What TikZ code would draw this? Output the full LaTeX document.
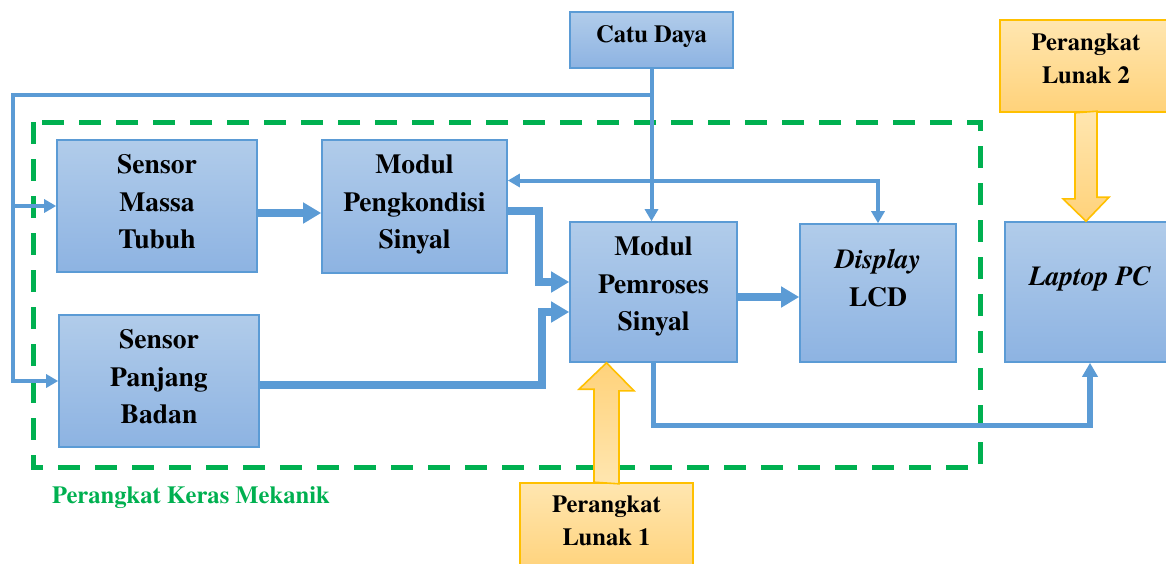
\documentclass[tikz,border=0pt]{standalone}
\usepackage{fontspec}
\setmainfont{texgyretermes}[Extension=.otf,UprightFont=*-regular,BoldFont=*-bold,ItalicFont=*-italic,BoldItalicFont=*-bolditalic]
\usetikzlibrary{arrows.meta}
\definecolor{boxline}{HTML}{5B9BD5}
\definecolor{boxtop}{HTML}{B1CCEA}
\definecolor{boxbot}{HTML}{8DB3E2}
\definecolor{softline}{HTML}{FFC000}
\definecolor{softtop}{HTML}{FFE6B0}
\definecolor{softbot}{HTML}{FFD27A}
\definecolor{hwgreen}{HTML}{00B050}
\begin{document}
\begin{tikzpicture}[x=0.5pt,y=-0.5pt,
				blok/.style={draw=boxline,line width=0.8pt,top color=boxtop,bottom color=boxbot,
					align=center,inner sep=0pt,text depth=4.5pt,font=\bfseries\fontsize{13.8}{18.75}\selectfont},
				kecil/.style={font=\bfseries\fontsize{12.3}{16.5}\selectfont},
				lunak/.style={draw=softline,top color=softtop,bottom color=softbot,text depth=7pt},
				pwr/.style={draw=boxline,line width=2pt,-{Triangle[length=6pt,width=6.5pt]}},
				sig/.style={draw=boxline,line width=4pt,-{Triangle[length=9pt,width=10pt]}},
				data/.style={draw=boxline,line width=2.6pt,-{Triangle[length=7pt,width=7.5pt]}},
				yarrow/.style={draw=softline,line width=0.8pt,top color=softbot,bottom color=softtop}]
\clip (0,0) rectangle (1166,563);
\draw[hwgreen,line width=2.5pt,dash pattern=on 11pt off 7.5pt] (33,122) rectangle (980,467);
\node[draw=none,text=hwgreen,font=\bfseries\fontsize{12.3}{16}\selectfont] (keras) at (191,498) {Perangkat Keras Mekanik};
\node[blok,kecil,minimum width=81.5pt,minimum height=28pt,text depth=6pt] (catu) at (651.5,40) {Catu Daya};
\node[blok,minimum width=100pt,minimum height=66pt] (massa) at (157,206) {Sensor\\Massa\\Tubuh};
\node[blok,minimum width=92.5pt,minimum height=66.5pt] (kondisi) at (414.5,206.5) {Modul\\Pengkondisi\\Sinyal};
\node[blok,minimum width=83.5pt,minimum height=70pt,text depth=8pt] (pemroses) at (653.5,292) {Modul\\Pemroses\\Sinyal};
\node[blok,minimum width=78pt,minimum height=69pt,text depth=15pt] (lcd) at (878,293) {\textit{Display}\\LCD};
\node[blok,minimum width=100pt,minimum height=66pt] (panjang) at (159,381) {Sensor\\Panjang\\Badan};
\node[blok,minimum width=85pt,minimum height=70pt,text depth=16pt] (laptop) at (1090,292) {\textit{Laptop PC}};
\node[blok,kecil,lunak,minimum width=86.5pt,minimum height=45pt] (lunak1) at (606.5,528) {Perangkat\\Lunak 1};
\node[blok,kecil,lunak,minimum width=86pt,minimum height=46pt] (lunak2) at (1086,66) {Perangkat\\Lunak 2};
\coordinate (busL) at (13,95);
\draw[pwr] (catu.south) -- (catu.south |- pemroses.north);
\draw[pwr] (catu.south |- busL) -- (busL) |- (panjang.west);
\draw[pwr] (busL |- massa.west) -- (massa.west);
\draw[pwr,{Triangle[length=6pt,width=6.5pt]}-{Triangle[length=6pt,width=6.5pt]}] ([yshift=13pt]kondisi.east) -| (lcd.north);
\draw[sig] ([yshift=-3.5pt]massa.east) -- ([yshift=-3.5pt]massa.east -| kondisi.west);
\draw[sig] ([yshift=-2pt]kondisi.east) -| ([xshift=-15pt,yshift=5pt]pemroses.west) -- ([yshift=5pt]pemroses.west);
\draw[sig] ([yshift=-2pt]panjang.east) -| ([xshift=-13.5pt,yshift=-10pt]pemroses.west) -- ([yshift=-10pt]pemroses.west);
\draw[sig] ([yshift=-2.5pt]pemroses.east) -- ([yshift=-2.5pt]pemroses.east -| lcd.west);
\draw[data] (pemroses.south) -- ++(0,63) -| (laptop.south);
\coordinate (l1tip) at (lunak1.north |- pemroses.south);
\coordinate (l2tip) at (lunak2.south |- laptop.north);
\draw[yarrow] (lunak1.north) ++(-12.5,0) -- ++(0,-93) -- ++(-15,0) -- (l1tip) -- ++(27.5,28) -- ++(-15,0) -- ++(0,93) -- cycle;
\draw[yarrow,top color=softtop,bottom color=softbot] (lunak2.south) ++(-11,0) -- ++(0,86) -- ++(-12,0) -- (l2tip) -- ++(23,-24) -- ++(-12,0) -- ++(0,-86) -- cycle;
\end{tikzpicture}
\end{document}
